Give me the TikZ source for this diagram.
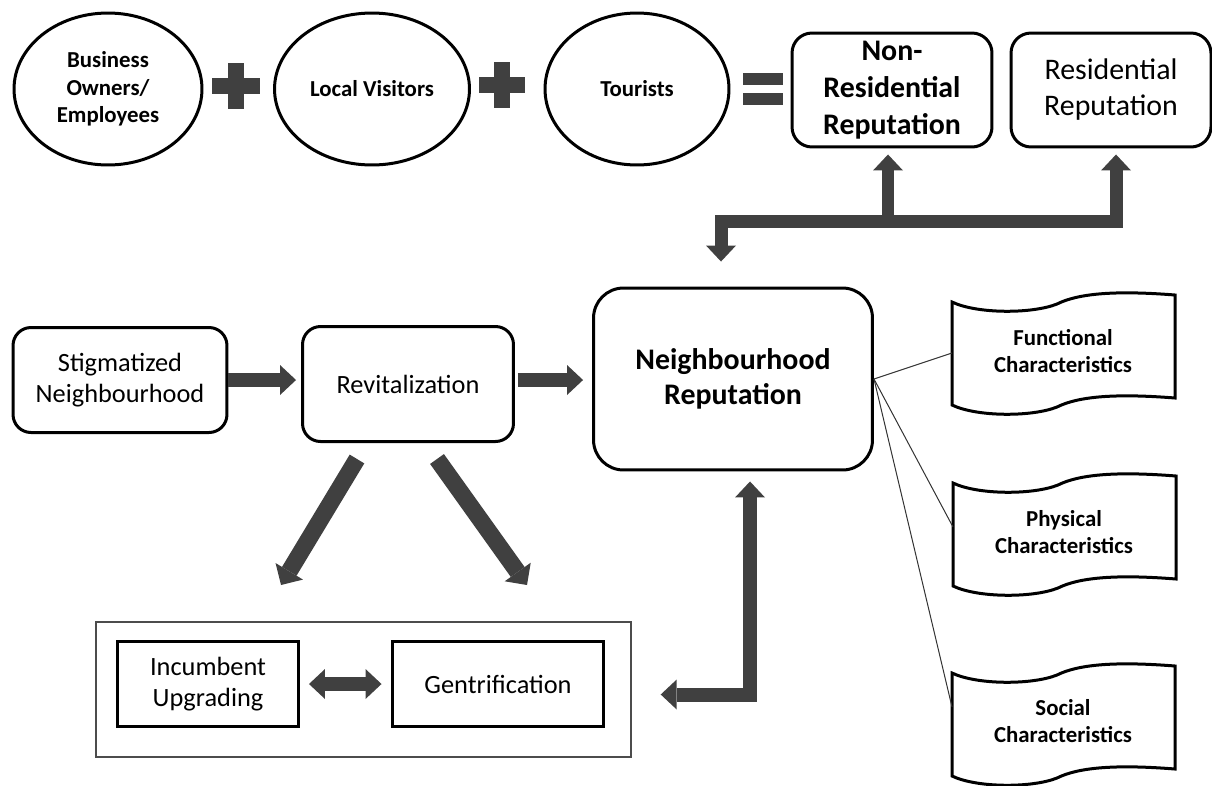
\documentclass[tikz,border=0pt]{standalone}
\usepackage{fontspec}
\setmainfont{Carlito}
\usepackage{tikz}
\usetikzlibrary{shapes.geometric, arrows.meta}
\definecolor{blockgray}{HTML}{404040}

\begin{document}
\begin{tikzpicture}[
  x=0.02cm, y=-0.02cm,
  oval/.style={draw, ellipse, line width=0.06cm, minimum height=3.04cm,
               inner sep=0pt, align=center, font=\bfseries\fontsize{13}{15.5}\selectfont},
  repbox/.style={draw, rounded corners=0.4cm, line width=0.06cm, minimum width=4cm,
                 minimum height=2.28cm, align=center, font=\fontsize{17}{20.5}\selectfont},
  stagebox/.style={draw, rounded corners=0.36cm, line width=0.06cm,
                   align=center, font=\fontsize{15}{18}\selectfont},
  sqbox/.style={draw, line width=0.06cm, minimum height=1.7cm,
                align=center, font=\fontsize{15}{18}\selectfont},
  doctext/.style={align=center, font=\bfseries\fontsize{13}{15.5}\selectfont},
  blk/.style={draw=blockgray, line width=0.28cm, line join=miter,
              >={Triangle[width=0.6cm, length=0.32cm, line width=0pt]}},
  linkline/.style={draw=black!80, line width=0.02cm},
  opfill/.style={fill=blockgray},
  tape/.pic={
    \draw[line width=0.06cm] (0,0) .. controls (25,12) and (80,12) .. (105,2)
      .. controls (125,-8) and (160,-12) .. (223,-7) -- (223,96)
      .. controls (160,91) and (125,95) .. (105,105)
      .. controls (80,115) and (25,115) .. (0,103) -- cycle;
  },
]
  \useasboundingbox (0,0) rectangle (1212,785);

  % Top row: the three groups and the reputations
  \node[oval, minimum width=3.76cm] (owners) at (108,89) {Business\\Owners/\\Employees};
  \node[oval, minimum width=3.9cm] (locals) at (372,89) {Local Visitors};
  \node[oval, minimum width=3.68cm] (tourists) at (637,89) {Tourists};
  \node[repbox, font=\bfseries\fontsize{17}{21}\selectfont] (nonres) at (892,90)
    {Non-\\Residential\\Reputation};
  \node[repbox] (res) at (1111,90) {Residential\\Reputation};

  % Plus and equals signs
  \fill[opfill] (212,78) rectangle (260,94);
  \fill[opfill] (228,63) rectangle (244,109);
  \fill[opfill] (479,77) rectangle (525,93);
  \fill[opfill] (494,62) rectangle (510,108);
  \fill[opfill] (743,73) rectangle (783,85);
  \fill[opfill] (743,93) rectangle (783,105);

  % Middle row
  \node[stagebox, minimum width=4.28cm, minimum height=2.1cm] (stig) at (120,380)
    {Stigmatized\\Neighbourhood};
  \node[stagebox, minimum width=4.22cm, minimum height=2.3cm] (revit) at (408,384)
    {Revitalization};
  \node[stagebox, rounded corners=0.6cm, minimum width=5.58cm, minimum height=3.64cm,
        font=\bfseries\fontsize{17}{20}\selectfont] (nbrep) at (733,379)
    {Neighbourhood\\Reputation};

  % Bottom group
  \node[draw=gray!60!black, line width=0.03cm, minimum width=10.7cm,
        minimum height=2.7cm] (grp) at (363.5,689.5) {};
  \node[sqbox, minimum width=3.62cm] (inc) at (208,684) {Incumbent\\Upgrading};
  \node[sqbox, minimum width=4.24cm] (gen) at (498,684) {Gentrification};

  % Characteristics
  \pic at (952,302) {tape};
  \pic at (953,483) {tape};
  \pic at (952,673) {tape};
  \node[doctext] (func) at (1063,351) {Functional\\Characteristics};
  \node[doctext] (phys) at (1064,532) {Physical\\Characteristics};
  \node[doctext] (soc) at (1063,721) {Social\\Characteristics};
  \coordinate (func-in) at (952,353);
  \coordinate (phys-in) at (953,527);
  \coordinate (soc-in) at (952,707);

  % Block arrows
  \draw[blk, ->, shorten >=0.1cm] (stig.east) -- (stig.east -| revit.west);
  \draw[blk, ->, shorten <=0.06cm, shorten >=0.18cm]
    (revit.east |- stig.east) -- (stig.east -| nbrep.west);
  \draw[blk, ->, line width=0.34cm,
        >={Triangle[width=0.64cm, length=0.32cm, line width=0pt]}]
    ([shift={(-51,16)}]revit.south) -- ([shift={(73,-55)}]inc.north);
  \draw[blk, ->, line width=0.34cm,
        >={Triangle[width=0.64cm, length=0.32cm, line width=0pt]}]
    ([shift={(29,16)}]revit.south) -- ([shift={(29,-55)}]gen.north);
  \draw[blk, <->, shorten <=0.18cm, shorten >=0.18cm] (inc.east) -- (gen.west);
  \draw[blk, <->] ([shift={(29,5)}]grp.east) -| ([shift={(17,10)}]nbrep.south);
  \draw[blk, <->, line width=0.26cm]
    ([shift={(-12,-25)}]nbrep.north) |- ([shift={(5,73)}]res.south)
    -- ([shift={(5,6)}]res.south);
  \draw[blk, ->, line width=0.24cm]
    ([shift={(-4,73)}]nonres.south) -- ([shift={(-4,6)}]nonres.south);

  % Thin links to the characteristics
  \draw[linkline] (nbrep.east) -- (func-in);
  \draw[linkline] (nbrep.east) -- (phys-in);
  \draw[linkline] (nbrep.east) -- (soc-in);
\end{tikzpicture}
\end{document}
